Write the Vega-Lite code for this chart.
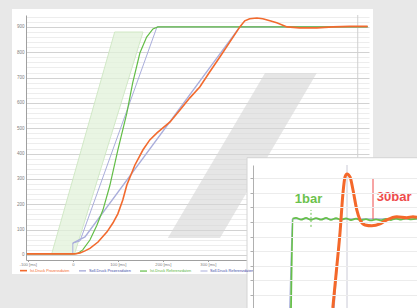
{
  "$schema": "https://vega.github.io/schema/vega-lite/v6.json",
  "width": 361,
  "height": 265,
  "autosize": {"type": "none"},
  "padding": {"left": 12, "top": 9, "right": 44, "bottom": 34},
  "background": "#e8e8e8",
  "config": {
    "font": "Liberation Sans",
    "view": {"fill": "#ffffff", "stroke": null}
  },
  "datasets": {
    "main": [
      {"series": "Soll-Druck Referenzdaten", "x": -102, "y": 4},
      {"series": "Soll-Druck Referenzdaten", "x": 0, "y": 4},
      {"series": "Soll-Druck Referenzdaten", "x": 0, "y": 47},
      {"series": "Soll-Druck Referenzdaten", "x": 16, "y": 55},
      {"series": "Soll-Druck Referenzdaten", "x": 187, "y": 900},
      {"series": "Soll-Druck Referenzdaten", "x": 655, "y": 900},
      {"series": "Soll-Druck Prozessdaten", "x": 0, "y": 47},
      {"series": "Soll-Druck Prozessdaten", "x": 27, "y": 71},
      {"series": "Soll-Druck Prozessdaten", "x": 371, "y": 900},
      {"series": "Soll-Druck Prozessdaten", "x": 655, "y": 900},
      {"series": "Ist-Druck Referenzdaten", "x": -102, "y": 4},
      {"series": "Ist-Druck Referenzdaten", "x": -2, "y": 4},
      {"series": "Ist-Druck Referenzdaten", "x": 11, "y": 6},
      {"series": "Ist-Druck Referenzdaten", "x": 22, "y": 20},
      {"series": "Ist-Druck Referenzdaten", "x": 38, "y": 59},
      {"series": "Ist-Druck Referenzdaten", "x": 53, "y": 115},
      {"series": "Ist-Druck Referenzdaten", "x": 67, "y": 178},
      {"series": "Ist-Druck Referenzdaten", "x": 82, "y": 272},
      {"series": "Ist-Druck Referenzdaten", "x": 100, "y": 414},
      {"series": "Ist-Druck Referenzdaten", "x": 120, "y": 560},
      {"series": "Ist-Druck Referenzdaten", "x": 133, "y": 679},
      {"series": "Ist-Druck Referenzdaten", "x": 149, "y": 797},
      {"series": "Ist-Druck Referenzdaten", "x": 164, "y": 860},
      {"series": "Ist-Druck Referenzdaten", "x": 178, "y": 892},
      {"series": "Ist-Druck Referenzdaten", "x": 189, "y": 900},
      {"series": "Ist-Druck Referenzdaten", "x": 655, "y": 900},
      {"series": "Ist-Druck Prozessdaten", "x": -102, "y": 4},
      {"series": "Ist-Druck Prozessdaten", "x": 4, "y": 4},
      {"series": "Ist-Druck Prozessdaten", "x": 16, "y": 8},
      {"series": "Ist-Druck Prozessdaten", "x": 27, "y": 16},
      {"series": "Ist-Druck Prozessdaten", "x": 38, "y": 26},
      {"series": "Ist-Druck Prozessdaten", "x": 56, "y": 51},
      {"series": "Ist-Druck Prozessdaten", "x": 76, "y": 91},
      {"series": "Ist-Druck Prozessdaten", "x": 89, "y": 126},
      {"series": "Ist-Druck Prozessdaten", "x": 100, "y": 162},
      {"series": "Ist-Druck Prozessdaten", "x": 111, "y": 217},
      {"series": "Ist-Druck Prozessdaten", "x": 120, "y": 276},
      {"series": "Ist-Druck Prozessdaten", "x": 138, "y": 355},
      {"series": "Ist-Druck Prozessdaten", "x": 156, "y": 415},
      {"series": "Ist-Druck Prozessdaten", "x": 171, "y": 454},
      {"series": "Ist-Druck Prozessdaten", "x": 187, "y": 482},
      {"series": "Ist-Druck Prozessdaten", "x": 216, "y": 525},
      {"series": "Ist-Druck Prozessdaten", "x": 238, "y": 572},
      {"series": "Ist-Druck Prozessdaten", "x": 260, "y": 620},
      {"series": "Ist-Druck Prozessdaten", "x": 282, "y": 663},
      {"series": "Ist-Druck Prozessdaten", "x": 304, "y": 722},
      {"series": "Ist-Druck Prozessdaten", "x": 327, "y": 782},
      {"series": "Ist-Druck Prozessdaten", "x": 349, "y": 841},
      {"series": "Ist-Druck Prozessdaten", "x": 371, "y": 900},
      {"series": "Ist-Druck Prozessdaten", "x": 382, "y": 924},
      {"series": "Ist-Druck Prozessdaten", "x": 393, "y": 932},
      {"series": "Ist-Druck Prozessdaten", "x": 409, "y": 935},
      {"series": "Ist-Druck Prozessdaten", "x": 422, "y": 932},
      {"series": "Ist-Druck Prozessdaten", "x": 438, "y": 924},
      {"series": "Ist-Druck Prozessdaten", "x": 453, "y": 916},
      {"series": "Ist-Druck Prozessdaten", "x": 476, "y": 900},
      {"series": "Ist-Druck Prozessdaten", "x": 504, "y": 896},
      {"series": "Ist-Druck Prozessdaten", "x": 542, "y": 896},
      {"series": "Ist-Druck Prozessdaten", "x": 578, "y": 900},
      {"series": "Ist-Druck Prozessdaten", "x": 616, "y": 902},
      {"series": "Ist-Druck Prozessdaten", "x": 655, "y": 902}
    ],
    "bands": [
      {"band": "Referenz", "y": 4, "x": -47, "x2": 4},
      {"band": "Referenz", "y": 880, "x": 93, "x2": 156},
      {"band": "Prozess", "y": 67, "x": 211, "x2": 327},
      {"band": "Prozess", "y": 718, "x": 427, "x2": 542}
    ],
    "insetGreen": [
      {"t": 19, "p": 841}, {"t": 20, "p": 902.3}, {"t": 21.5, "p": 902.8},
      {"t": 24, "p": 901.5}, {"t": 26.5, "p": 902.7}, {"t": 29, "p": 901.4},
      {"t": 31.5, "p": 902.6}, {"t": 34, "p": 901.5}, {"t": 36.5, "p": 902.7},
      {"t": 39, "p": 901.4}, {"t": 41.5, "p": 902.5}, {"t": 44, "p": 901.4},
      {"t": 46.5, "p": 902.4}, {"t": 49, "p": 901.3}, {"t": 51.5, "p": 902.2},
      {"t": 54, "p": 901.2}, {"t": 56.5, "p": 901.9}, {"t": 59, "p": 901.0},
      {"t": 61.5, "p": 901.8}, {"t": 64, "p": 901.1}, {"t": 66.5, "p": 902.0},
      {"t": 69, "p": 901.3}, {"t": 71.5, "p": 902.3}, {"t": 74, "p": 901.6},
      {"t": 76.5, "p": 902.4}, {"t": 79, "p": 901.7}, {"t": 82, "p": 902.2}
    ],
    "insetOrange": [
      {"t": 39.9, "p": 841}, {"t": 41.9, "p": 869.4}, {"t": 43.5, "p": 892.5},
      {"t": 45, "p": 919.9}, {"t": 46, "p": 930.8}, {"t": 47, "p": 932.9},
      {"t": 48.5, "p": 930.8}, {"t": 50, "p": 921.9}, {"t": 51.9, "p": 908.2},
      {"t": 53.5, "p": 901.4}, {"t": 56, "p": 897.9}, {"t": 59.4, "p": 897.3},
      {"t": 63.5, "p": 898.6}, {"t": 66.9, "p": 901.4}, {"t": 71.9, "p": 903.6},
      {"t": 76.9, "p": 902.9}, {"t": 80, "p": 903.6}, {"t": 82, "p": 903.1}
    ],
    "insetBlue": [
      {"series": "a", "t": 18.3, "p": 841}, {"series": "a", "t": 19.6, "p": 902}, {"series": "a", "t": 82, "p": 902},
      {"series": "b", "t": 40.6, "p": 841}, {"series": "b", "t": 43.8, "p": 902}, {"series": "b", "t": 82, "p": 902}
    ]
  },
  "layer": [
    {
      "encoding": {
        "x": {
          "field": "x", "type": "quantitative", "title": null,
          "scale": {"domain": [-104, 658], "range": [14, 357], "nice": false, "zero": false},
          "axis": {
            "orient": "bottom", "offset": -14, "values": [-100, 0, 100, 200, 300],
            "grid": false, "domainColor": "#a0a0a0", "tickColor": "#a0a0a0", "tickSize": 1.5,
            "labelFontSize": 4.2, "labelColor": "#808080", "labelPadding": 0.5,
            "labelExpr": "datum.value === 0 ? '0' : datum.value + ' [ms]'"
          }
        },
        "y": {
          "field": "y", "type": "quantitative", "title": null,
          "scale": {"domain": [-20, 947], "range": [251, 6], "nice": false, "zero": false},
          "axis": {
            "orient": "left", "offset": -14,
            "values": [0,20,40,60,80,100,120,140,160,180,200,220,240,260,280,300,320,340,360,380,400,420,440,460,480,500,520,540,560,580,600,620,640,660,680,700,720,740,760,780,800,820,840,860,880,900,920,940],
            "grid": true,
            "gridColor": {"condition": {"test": "datum.value % 100 === 0", "value": "#d2d2d2"}, "value": "#ededed"},
            "ticks": false, "domainColor": "#a0a0a0",
            "labelExpr": "datum.value % 100 === 0 ? datum.label : ''",
            "labelFontSize": 4.5, "labelColor": "#808080", "labelPadding": 2
          }
        }
      },
      "layer": [
        {
          "data": {"name": "bands"},
          "transform": [{"filter": "datum.band === 'Referenz'"}],
          "mark": {"type": "area", "orient": "horizontal", "fill": "#e2f1da", "fillOpacity": 0.75, "stroke": "#c9e4bd", "strokeWidth": 0.8},
          "encoding": {"x2": {"field": "x2"}}
        },
        {
          "data": {"name": "bands"},
          "transform": [{"filter": "datum.band === 'Prozess'"}],
          "mark": {"type": "area", "orient": "horizontal", "fill": "#d6d6d6", "fillOpacity": 0.6},
          "encoding": {"x2": {"field": "x2"}}
        },
        {
          "data": {"values": [{"x": 633, "y": -20, "y2": 947}]},
          "mark": {"type": "rule", "color": "#cfcfcf", "strokeWidth": 1},
          "encoding": {"y2": {"field": "y2"}}
        },
        {
          "data": {"name": "main"},
          "mark": {"type": "line"},
          "encoding": {
            "color": {
              "field": "series", "type": "nominal",
              "scale": {
                "domain": ["Ist-Druck Prozessdaten", "Soll-Druck Prozessdaten", "Ist-Druck Referenzdaten", "Soll-Druck Referenzdaten"],
                "range": ["#f26a2e", "#a9addb", "#62bd46", "#a9addb"]
              },
              "legend": {
                "title": null, "orient": "none", "legendX": 7, "legendY": 257,
                "direction": "horizontal", "symbolType": "stroke", "symbolSize": 49,
                "symbolStrokeWidth": 1.5, "labelFontSize": 3.8, "labelOffset": 2,
                "columnPadding": 6, "labelLimit": 80, "padding": 0,
                "encode": {
                  "labels": {
                    "update": {
                      "fill": {"signal": "datum.value === 'Ist-Druck Prozessdaten' ? '#f26a2e' : datum.value === 'Ist-Druck Referenzdaten' ? '#58b43c' : '#3d4aa8'"}
                    }
                  }
                }
              }
            },
            "strokeWidth": {
              "field": "series", "type": "ordinal",
              "scale": {
                "domain": ["Ist-Druck Prozessdaten", "Soll-Druck Prozessdaten", "Ist-Druck Referenzdaten", "Soll-Druck Referenzdaten"],
                "range": [1.6, 1, 1.8, 1]
              },
              "legend": null
            }
          }
        }
      ]
    },
    {
      "encoding": {
        "x": {
          "field": "t", "type": "quantitative", "title": null,
          "scale": {"domain": [0, 82], "range": [241, 405], "nice": false, "zero": false},
          "axis": null
        },
        "y": {
          "field": "p", "type": "quantitative", "title": null,
          "scale": {"domain": [841, 939], "range": [299, 156], "nice": false, "zero": false},
          "axis": {
            "orient": "left", "offset": -241,
            "values": [850, 860, 870, 880, 890, 900, 910, 920, 930],
            "labels": false, "tickSize": 3, "tickColor": "#b0b0b0",
            "domainColor": "#b0b0b0", "grid": true, "gridColor": "#ececec", "zindex": 1
          }
        }
      },
      "layer": [
        {
          "data": {"values": [{"t": -3, "t2": 95, "p": 830, "p2": 944}]},
          "mark": {"type": "rect", "fill": "#ffffff", "stroke": "#d4d4d4", "strokeWidth": 1},
          "encoding": {
            "x2": {"field": "t2"},
            "y2": {"field": "p2"}
          }
        },
        {
          "data": {"values": [{"t": 47, "p": 841, "p2": 939}]},
          "mark": {"type": "rule", "color": "#cacad6", "strokeWidth": 1},
          "encoding": {"y2": {"field": "p2"}}
        },
        {
          "data": {"name": "insetBlue"},
          "mark": {"type": "line", "color": "#aab0dc", "strokeWidth": 1},
          "encoding": {"detail": {"field": "series"}}
        },
        {
          "data": {"name": "insetGreen"},
          "mark": {"type": "line", "color": "#66bf4a", "strokeWidth": 1.8, "interpolate": "monotone"}
        },
        {
          "data": {"name": "insetOrange"},
          "mark": {"type": "line", "color": "#f4682a", "strokeWidth": 3, "interpolate": "monotone"}
        },
        {
          "data": {"values": [{"t": 29, "p": 896.6, "p2": 908.2}]},
          "mark": {"type": "rule", "color": "#66bf4a", "strokeWidth": 1, "strokeDash": [2, 2]},
          "encoding": {"y2": {"field": "p2"}}
        },
        {
          "data": {"values": [{"t": 60, "p": 902, "p2": 930.1}]},
          "mark": {"type": "rule", "color": "#ee4b4b", "strokeWidth": 1},
          "encoding": {"y2": {"field": "p2"}}
        },
        {
          "data": {"values": [{"label": "1bar", "t": 27.75, "p": 913}]},
          "mark": {"type": "text", "color": "#6cc24c", "fontSize": 13, "fontWeight": "bold", "align": "center", "baseline": "alphabetic"},
          "encoding": {"text": {"field": "label"}}
        },
        {
          "data": {"values": [{"label": "30bar", "t": 70.6, "p": 914.4}]},
          "mark": {"type": "text", "color": "#ee4b4b", "fontSize": 13, "fontWeight": "bold", "align": "center", "baseline": "alphabetic"},
          "encoding": {"text": {"field": "label"}}
        }
      ]
    }
  ],
  "resolve": {
    "scale": {"x": "independent", "y": "independent", "color": "independent", "strokeWidth": "independent"},
    "axis": {"x": "independent", "y": "independent"}
  }
}
